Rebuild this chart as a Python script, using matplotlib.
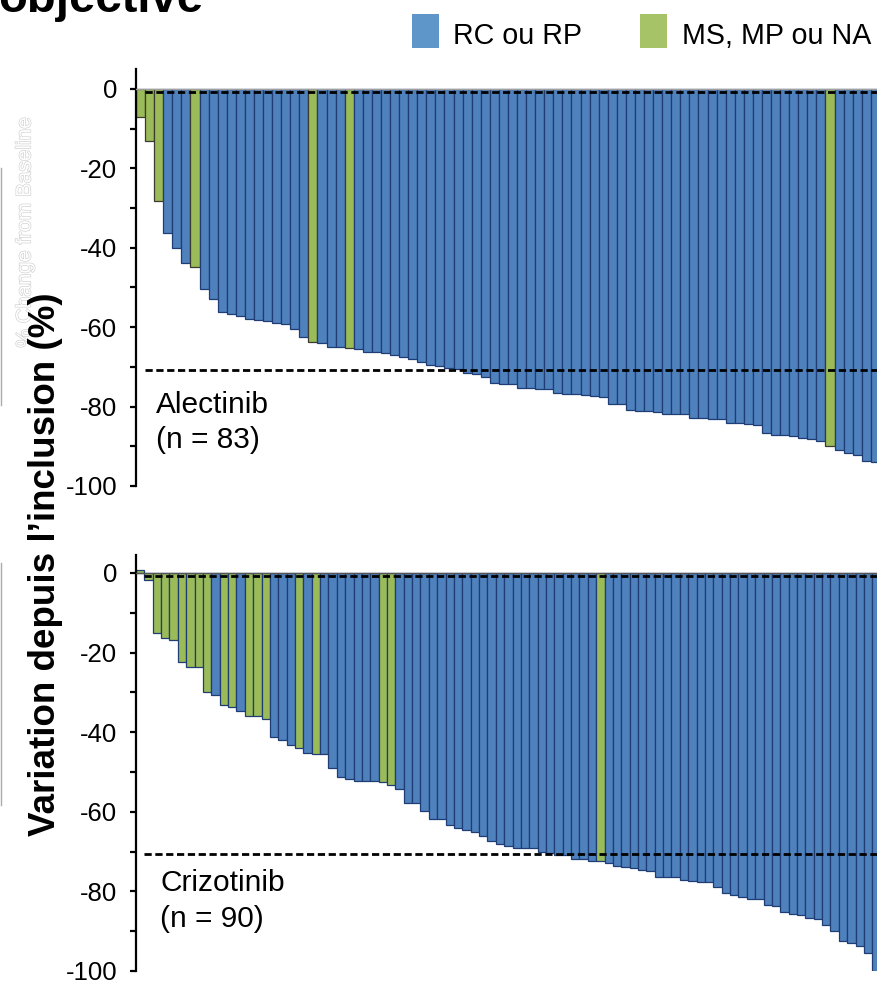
import matplotlib
matplotlib.use('Agg')
import matplotlib.pyplot as plt
from matplotlib.patches import Rectangle
from matplotlib.lines import Line2D
import matplotlib.patheffects as pe
import numpy as np

plt.rcParams['font.family'] = ['Liberation Sans', 'DejaVu Sans']
plt.rcParams['axes.unicode_minus'] = False

W, H = 877, 981

# ---------------- data ----------------
alectinib_values = [
    -7.1, -13.1, -28.2, -36.3, -40.0, -43.9, -44.9, -50.3, -52.8, -56.2,
    -56.8, -57.3, -57.9, -58.2, -58.4, -58.9, -59.3, -60.5, -62.5, -63.8,
    -64.1, -64.9, -65.1, -65.2, -65.6, -66.2, -66.3, -66.6, -66.9, -67.4,
    -68.0, -68.9, -69.5, -69.9, -70.2, -70.6, -71.6, -71.9, -72.5, -74.0,
    -74.2, -74.2, -75.2, -75.2, -75.5, -75.6, -76.6, -76.8, -76.8, -77.1,
    -77.3, -77.6, -79.3, -79.3, -80.9, -81.2, -81.2, -81.3, -81.9, -81.9,
    -81.9, -82.9, -83.0, -83.1, -83.2, -84.2, -84.2, -84.3, -84.6, -86.6,
    -87.2, -87.2, -87.3, -87.9, -88.2, -88.6, -89.9, -90.9, -91.6, -92.3,
    -93.6, -93.9, -95.0,
]
alectinib_green = [0, 1, 2, 6, 19, 23, 76]

crizotinib_values = [
    0.8, -1.8, -15.0, -16.3, -16.9, -22.3, -23.6, -23.6, -30.0, -30.7,
    -33.3, -33.7, -34.7, -35.9, -35.9, -36.6, -41.3, -42.0, -43.3, -44.0,
    -45.3, -45.6, -45.6, -49.1, -51.3, -51.8, -52.2, -52.2, -52.3, -52.6,
    -53.3, -54.4, -57.9, -57.9, -59.7, -61.9, -61.9, -63.2, -64.0, -64.6,
    -65.0, -66.0, -67.3, -68.0, -68.7, -69.0, -69.0, -69.0, -70.0, -70.4,
    -70.8, -70.8, -71.9, -71.9, -72.3, -72.4, -72.9, -73.6, -73.9, -74.2,
    -74.6, -75.0, -76.3, -76.3, -76.3, -77.1, -77.3, -77.6, -77.6, -79.0,
    -80.3, -81.0, -81.3, -82.0, -82.0, -83.3, -83.7, -85.3, -85.7, -86.0,
    -86.7, -87.0, -88.4, -90.0, -92.4, -92.9, -93.7, -95.4, -100.0, -100.0,
]
crizotinib_green = [0, 1, 2, 3, 4, 5, 6, 7, 8, 10, 11, 13, 14, 15, 19, 21, 29, 30, 55]

y_ticks = [0, -20, -40, -60, -80, -100]
y_tick_labels = ['0', '-20', '-40', '-60', '-80', '-100']
y_minor_ticks = [-10, -30, -50, -70, -90]
threshold_values = [-0.9, -70.7]
legend_labels = ['RC ou RP', 'MS, MP ou NA']
drug_names = ['Alectinib', 'Crizotinib']
n_labels = ['(n = 83)', '(n = 90)']
title_text = 'objective'
y_label = 'Variation depuis l\u2019inclusion (%)'
ghost_label = '% Change from Baseline'

# ---------------- style ----------------
BLUE = '#4F81BD'
BLUE_EDGE = '#1F3C74'
GREEN = '#9BBB59'
LEG_BLUE = '#5F96CA'
LEG_GREEN = '#A6C467'


def fx(px):
    return px / W


def fy(py):
    return 1 - py / H


def px_rect(left, top, right, bottom):
    return [left / W, 1 - bottom / H, (right - left) / W, (bottom - top) / H]


fig = plt.figure(figsize=(W / 100, H / 100), dpi=100)
fig.patch.set_facecolor('white')

ax1 = fig.add_axes(px_rect(136, 69, 889, 486))
ax2 = fig.add_axes(px_rect(136, 555, 889, 971))


def draw_panel(ax, values, green_idx, ymax, green_edge, zero_color):
    n = len(values)
    x = np.arange(n)
    fills = [GREEN if i in green_idx else BLUE for i in range(n)]
    edges = [green_edge if i in green_idx else BLUE_EDGE for i in range(n)]
    ax.bar(x, values, width=1.0, color=fills, edgecolor=edges, linewidth=0.9, zorder=2)
    ax.set_xlim(-0.5, n - 0.5)
    ax.set_ylim(-100, ymax)
    ax.axhline(0, color=zero_color, lw=1.0, zorder=3)
    for t in threshold_values:
        ax.plot([0.5, n - 0.5], [t, t], color='black', lw=2.0,
                ls=(0, (2.6, 1.3)), zorder=4, dash_capstyle='butt')
    for s in ['top', 'right', 'bottom']:
        ax.spines[s].set_visible(False)
    ax.spines['left'].set_linewidth(1.6)
    ax.spines['left'].set_color('black')
    ax.set_xticks([])
    ax.set_yticks(y_ticks)
    ax.set_yticklabels(y_tick_labels)
    ax.set_yticks(y_minor_ticks, minor=True)
    ax.tick_params(axis='y', which='both', direction='out', length=4.5,
                   width=1.6, colors='black', labelsize=18.5, pad=9)
    ax.patch.set_alpha(0)


draw_panel(ax1, alectinib_values, alectinib_green, 5.0, '#3A3A30', '#A0A0A0')
draw_panel(ax2, crizotinib_values, crizotinib_green, 4.5, BLUE_EDGE, '#555555')

# panel labels
fig.text(fx(156), fy(413), drug_names[0], fontsize=21.5, va='baseline', ha='left')
fig.text(fx(156), fy(448), n_labels[0], fontsize=21.5, va='baseline', ha='left')
fig.text(fx(160), fy(891), drug_names[1], fontsize=21.5, va='baseline', ha='left')
fig.text(fx(160), fy(927), n_labels[1], fontsize=21.5, va='baseline', ha='left')

# legend
fig.add_artist(Rectangle((fx(412), fy(48)), 27 / W, 34 / H, transform=fig.transFigure,
                         facecolor=LEG_BLUE, edgecolor='none'))
fig.add_artist(Rectangle((fx(640), fy(48)), 27 / W, 34 / H, transform=fig.transFigure,
                         facecolor=LEG_GREEN, edgecolor='none'))
fig.text(fx(453), fy(44), legend_labels[0], fontsize=20.6, va='baseline', ha='left')
fig.text(fx(682), fy(44), legend_labels[1], fontsize=20.6, va='baseline', ha='left')

# title (cropped by the top edge)
fig.text(fx(-2), fy(12), title_text, fontsize=34, weight='bold', va='baseline', ha='left')

# ghost label from the underlying slide (hollow outline letters)
fig.text(fx(25), fy(232), ghost_label, rotation=90, fontsize=15, color='white',
         ha='center', va='center', zorder=1,
         path_effects=[pe.withStroke(linewidth=0.9, foreground='#CFCFCF')])

# y label
fig.text(fx(46), fy(564), y_label, rotation=90, fontsize=26.5, weight='bold',
         ha='center', va='center', zorder=3)

# faint box edges at far left
fig.add_artist(Line2D([fx(1), fx(1)], [fy(168), fy(405)], color='#AAAAAA', lw=1.0))
fig.add_artist(Line2D([fx(1), fx(1)], [fy(563), fy(805)], color='#AAAAAA', lw=1.0))

fig.savefig('out.png', dpi=100, facecolor='white')
